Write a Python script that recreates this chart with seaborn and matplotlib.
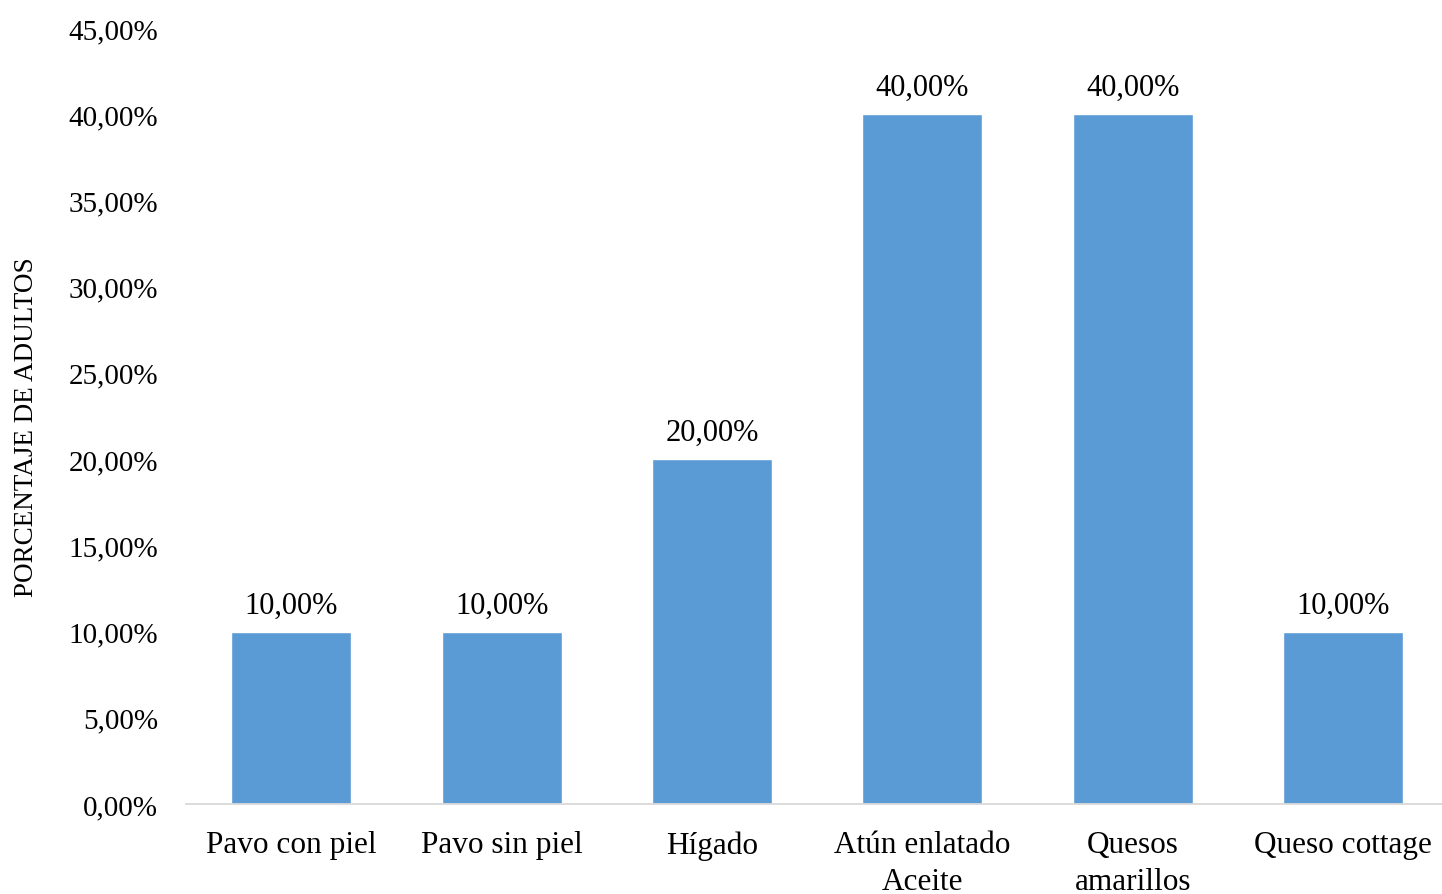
import matplotlib
matplotlib.use("Agg")
import matplotlib.pyplot as plt
import seaborn as sns
import pandas as pd

categories = ["Pavo con piel", "Pavo sin piel", "Hígado", "Atún enlatado\nAceite", "Quesos\namarillos", "Queso cottage"]
values = [10.0, 10.0, 20.0, 40.0, 40.0, 10.0]
yticks = [0, 5, 10, 15, 20, 25, 30, 35, 40, 45]

sns.set_theme(style="white")
plt.rcParams['font.family'] = ['Liberation Serif', 'DejaVu Serif']
plt.rcParams['text.color'] = 'black'
plt.rcParams['xtick.color'] = 'black'
plt.rcParams['ytick.color'] = 'black'
plt.rcParams['axes.labelcolor'] = 'black'

df = pd.DataFrame({"cat": categories, "val": values})
fig = plt.figure(figsize=(14.42, 8.95), dpi=100)
ax = fig.add_axes([0.129, 0.1006, 0.871, 0.867])
sns.barplot(data=df, x="cat", y="val", color="#5B9BD5", width=0.57, saturation=1, ax=ax)

ax.set_ylim(0, 45)
ax.set_xlim(-0.5, 5.47)
ax.set_yticks(yticks)
ax.set_yticklabels([f"{v:.2f}".replace(".", ",") + "%" for v in yticks], fontsize=21)
ax.tick_params(axis='x', labelsize=22.5, length=0, pad=19)
ax.tick_params(axis='y', length=0, pad=20)
for lab in ax.get_xticklabels():
    lab.set_linespacing(1.35)
    lab.set_verticalalignment('top')

for i, v in enumerate(values):
    ax.text(i, v + 0.7, f"{v:.2f}".replace(".", ",") + "%", ha="center", va="bottom", fontsize=22)

ax.set_xlabel("")
ax.set_ylabel("PORCENTAJE DE ADULTOS", fontsize=19.5)
ax.yaxis.set_label_coords(-0.117, 0.487)
for s in ["top", "right", "left"]:
    ax.spines[s].set_visible(False)
ax.spines["bottom"].set_color("#D9D9D9")
ax.spines["bottom"].set_linewidth(1.3)

fig.savefig("out.png", dpi=100)
